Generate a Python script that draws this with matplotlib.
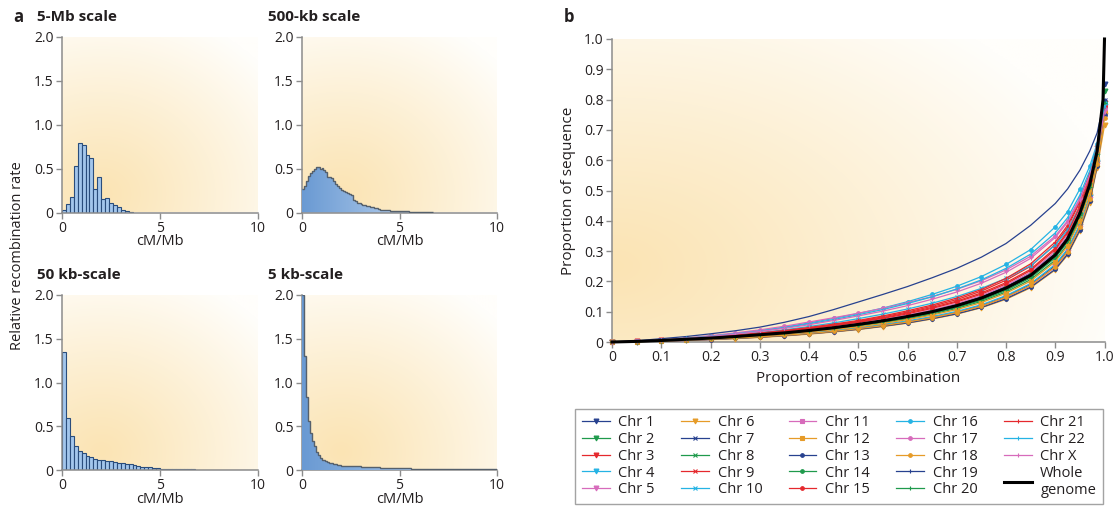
#!/usr/bin/env python3
"""
Recombination rate distributions (a) and cumulative recombination
vs sequence curves per chromosome (b).
"""

import numpy as np
import matplotlib
matplotlib.use("Agg")
import matplotlib.pyplot as plt
from matplotlib.colors import LinearSegmentedColormap

plt.rcParams['font.family'] = ['Open Sans', 'DejaVu Sans']

# ---------------------------------------------------------------------------
# Panel a data: relative recombination rate per cM/Mb bin
# ---------------------------------------------------------------------------
mb5_bin = 0.2
mb5_rate = [0.03, 0.10, 0.18, 0.53, 0.79, 0.77, 0.66, 0.62, 0.27, 0.40,
            0.15, 0.17, 0.11, 0.08, 0.06, 0.03, 0.02, 0.01]

kb500_edges = [0.0, 0.1, 0.2, 0.3, 0.4, 0.5, 0.6, 0.7, 0.8, 0.9,
               1.0, 1.1, 1.2, 1.3, 1.4, 1.5, 1.6, 1.7, 1.8, 1.9,
               2.0, 2.1, 2.2, 2.3, 2.4, 2.5, 2.6, 2.7, 2.8, 2.9,
               3.0, 3.1, 3.2, 3.3, 3.4, 3.5, 3.6, 3.7, 3.8, 3.9,
               4.0, 4.5, 5.0, 5.5, 6.7]
kb500_rate = [0.27, 0.30, 0.36, 0.42, 0.45, 0.47, 0.50, 0.52, 0.52, 0.50,
              0.51, 0.48, 0.46, 0.41, 0.40, 0.39, 0.36, 0.33, 0.30, 0.28,
              0.26, 0.25, 0.23, 0.22, 0.21, 0.20, 0.14, 0.13, 0.11, 0.11,
              0.10, 0.09, 0.085, 0.075, 0.07, 0.065, 0.06, 0.055, 0.05, 0.045,
              0.032, 0.020, 0.013, 0.008]

kb50_bin = 0.2
kb50_rate = [1.345, 0.59, 0.385, 0.27, 0.22, 0.19, 0.165, 0.145, 0.13, 0.118,
             0.11, 0.105, 0.10, 0.095, 0.084, 0.08, 0.072, 0.065, 0.053, 0.046,
             0.038, 0.034, 0.030, 0.027, 0.019, 0.011, 0.010, 0.009, 0.008, 0.008,
             0.007, 0.007, 0.006, 0.006, 0.005, 0.005, 0.005, 0.004, 0.004, 0.003,
             0.002, 0.002, 0.002, 0.002, 0.002, 0.002, 0.002, 0.002, 0.002, 0.002]

kb5_edges = [0.0, 0.1, 0.2, 0.3, 0.4, 0.5, 0.6, 0.7, 0.8, 0.9,
             1.0, 1.1, 1.2, 1.3, 1.4, 1.5, 1.6, 1.7, 1.8, 1.9,
             2.0, 2.5, 3.0, 4.0, 5.6, 10.0]
kb5_rate = [2.0, 1.30, 0.83, 0.56, 0.42, 0.33, 0.27, 0.21, 0.17, 0.14,
            0.12, 0.11, 0.10, 0.09, 0.08, 0.075, 0.07, 0.065, 0.06, 0.058,
            0.05, 0.042, 0.032, 0.02, 0.008]

# ---------------------------------------------------------------------------
# Panel b data: proportion of sequence vs proportion of recombination
# ---------------------------------------------------------------------------
prop_rec = [0, 0.05, 0.1, 0.15, 0.2, 0.25, 0.3, 0.35, 0.4, 0.45, 0.5, 0.55,
            0.6, 0.65, 0.7, 0.75, 0.8, 0.85, 0.9, 0.925, 0.95, 0.97, 0.985, 1.0]

chr1 = [0, 0.001, 0.003, 0.006, 0.009, 0.013, 0.017, 0.022, 0.028, 0.036, 0.045, 0.055,
        0.067, 0.081, 0.098, 0.120, 0.150, 0.190, 0.252, 0.302, 0.382, 0.478, 0.590, 0.853]
chr2 = [0, 0.001, 0.004, 0.008, 0.012, 0.017, 0.022, 0.028, 0.036, 0.044, 0.055, 0.066,
        0.080, 0.095, 0.114, 0.138, 0.170, 0.212, 0.278, 0.330, 0.412, 0.505, 0.615, 0.830]
chr3 = [0, 0.002, 0.005, 0.010, 0.015, 0.021, 0.028, 0.036, 0.045, 0.055, 0.067, 0.080,
        0.096, 0.114, 0.135, 0.162, 0.196, 0.240, 0.310, 0.365, 0.450, 0.540, 0.640, 0.790]
chr4 = [0, 0.001, 0.003, 0.006, 0.010, 0.014, 0.018, 0.024, 0.030, 0.038, 0.047, 0.058,
        0.070, 0.084, 0.101, 0.123, 0.153, 0.193, 0.256, 0.307, 0.388, 0.483, 0.595, 0.778]
chr5 = [0, 0.001, 0.003, 0.005, 0.008, 0.012, 0.016, 0.021, 0.027, 0.034, 0.043, 0.053,
        0.065, 0.079, 0.096, 0.118, 0.147, 0.186, 0.247, 0.297, 0.377, 0.472, 0.585, 0.748]
chr6 = [0, 0.001, 0.003, 0.005, 0.008, 0.011, 0.015, 0.020, 0.026, 0.033, 0.041, 0.051,
        0.062, 0.076, 0.092, 0.113, 0.141, 0.179, 0.238, 0.287, 0.366, 0.460, 0.575, 0.715]
chr7 = [0, 0.002, 0.005, 0.009, 0.013, 0.018, 0.024, 0.031, 0.039, 0.048, 0.059, 0.071,
        0.086, 0.103, 0.123, 0.149, 0.183, 0.226, 0.293, 0.346, 0.430, 0.525, 0.630, 0.800]
chr8 = [0, 0.001, 0.004, 0.008, 0.012, 0.016, 0.022, 0.028, 0.035, 0.043, 0.053, 0.064,
        0.077, 0.092, 0.111, 0.134, 0.165, 0.206, 0.270, 0.322, 0.405, 0.500, 0.610, 0.790]
chr9 = [0, 0.002, 0.006, 0.011, 0.016, 0.022, 0.029, 0.037, 0.046, 0.057, 0.069, 0.083,
        0.099, 0.118, 0.140, 0.168, 0.204, 0.250, 0.322, 0.378, 0.462, 0.550, 0.645, 0.780]
chr10 = [0, 0.002, 0.005, 0.010, 0.016, 0.023, 0.031, 0.040, 0.051, 0.063, 0.077, 0.092,
         0.109, 0.128, 0.150, 0.177, 0.210, 0.252, 0.320, 0.370, 0.445, 0.530, 0.620, 0.770]
chr11 = [0, 0.002, 0.005, 0.009, 0.014, 0.019, 0.025, 0.032, 0.040, 0.050, 0.061, 0.074,
         0.089, 0.106, 0.127, 0.153, 0.187, 0.230, 0.298, 0.352, 0.436, 0.530, 0.632, 0.780]
chr12 = [0, 0.001, 0.004, 0.007, 0.011, 0.015, 0.020, 0.026, 0.033, 0.041, 0.050, 0.061,
         0.074, 0.089, 0.107, 0.130, 0.161, 0.201, 0.265, 0.317, 0.400, 0.495, 0.605, 0.760]
chr13 = [0, 0.001, 0.003, 0.005, 0.008, 0.012, 0.016, 0.021, 0.027, 0.034, 0.042, 0.052,
         0.063, 0.077, 0.093, 0.114, 0.143, 0.181, 0.240, 0.290, 0.370, 0.465, 0.580, 0.750]
chr14 = [0, 0.002, 0.005, 0.009, 0.013, 0.018, 0.024, 0.031, 0.039, 0.048, 0.059, 0.071,
         0.085, 0.102, 0.122, 0.147, 0.180, 0.223, 0.290, 0.343, 0.427, 0.522, 0.628, 0.790]
chr15 = [0, 0.002, 0.005, 0.010, 0.015, 0.021, 0.027, 0.035, 0.044, 0.054, 0.065, 0.078,
         0.093, 0.111, 0.132, 0.158, 0.192, 0.236, 0.305, 0.360, 0.445, 0.535, 0.635, 0.780]
chr16 = [0, 0.002, 0.006, 0.011, 0.019, 0.027, 0.037, 0.049, 0.063, 0.078, 0.094, 0.112,
         0.133, 0.157, 0.184, 0.216, 0.256, 0.305, 0.380, 0.430, 0.505, 0.580, 0.655, 0.790]
chr17 = [0, 0.003, 0.007, 0.013, 0.021, 0.030, 0.040, 0.052, 0.066, 0.080, 0.095, 0.111,
         0.130, 0.150, 0.174, 0.202, 0.238, 0.283, 0.350, 0.400, 0.475, 0.555, 0.635, 0.770]
chr18 = [0, 0.001, 0.003, 0.006, 0.009, 0.013, 0.017, 0.022, 0.028, 0.035, 0.044, 0.054,
         0.066, 0.080, 0.097, 0.118, 0.148, 0.187, 0.248, 0.298, 0.378, 0.473, 0.587, 0.740]
chr19 = [0, 0.004, 0.011, 0.018, 0.027, 0.037, 0.049, 0.065, 0.084, 0.107, 0.132, 0.157,
         0.183, 0.212, 0.243, 0.280, 0.325, 0.385, 0.457, 0.505, 0.567, 0.630, 0.690, 0.800]
chr20 = [0, 0.001, 0.004, 0.008, 0.012, 0.017, 0.023, 0.029, 0.037, 0.046, 0.056, 0.068,
         0.082, 0.098, 0.117, 0.141, 0.174, 0.216, 0.283, 0.336, 0.418, 0.512, 0.620, 0.790]
chr21 = [0, 0.002, 0.006, 0.011, 0.017, 0.023, 0.030, 0.038, 0.048, 0.059, 0.071, 0.086,
         0.103, 0.122, 0.145, 0.173, 0.210, 0.258, 0.330, 0.385, 0.468, 0.555, 0.650, 0.780]
chr22 = [0, 0.002, 0.006, 0.012, 0.019, 0.027, 0.036, 0.047, 0.060, 0.074, 0.090, 0.107,
         0.127, 0.149, 0.175, 0.205, 0.243, 0.290, 0.360, 0.410, 0.485, 0.565, 0.645, 0.780]
chrX = [0, 0.002, 0.006, 0.011, 0.018, 0.026, 0.035, 0.045, 0.057, 0.071, 0.086, 0.102,
        0.120, 0.141, 0.165, 0.194, 0.230, 0.276, 0.345, 0.395, 0.470, 0.550, 0.630, 0.760]

wg_rec = [0, 0.05, 0.1, 0.15, 0.2, 0.25, 0.3, 0.35, 0.4, 0.45, 0.5, 0.55, 0.6, 0.65,
          0.7, 0.75, 0.8, 0.85, 0.9, 0.925, 0.95, 0.97, 0.985, 0.997, 1.0]
wg_seq = [0, 0.002, 0.005, 0.009, 0.013, 0.018, 0.024, 0.030, 0.038, 0.047, 0.058, 0.070,
          0.084, 0.100, 0.120, 0.145, 0.178, 0.220, 0.287, 0.340, 0.425, 0.520, 0.630,
          0.800, 1.0]

chr_labels = ['Chr 1', 'Chr 2', 'Chr 3', 'Chr 4', 'Chr 5', 'Chr 6', 'Chr 7', 'Chr 8',
              'Chr 9', 'Chr 10', 'Chr 11', 'Chr 12', 'Chr 13', 'Chr 14', 'Chr 15',
              'Chr 16', 'Chr 17', 'Chr 18', 'Chr 19', 'Chr 20', 'Chr 21', 'Chr 22',
              'Chr X']

# ---------------------------------------------------------------------------
# Styles
# ---------------------------------------------------------------------------
NAVY, GREEN, RED = '#27418f', '#1f9a4c', '#e5282d'
CYAN, PINK, ORANGE = '#25b3e4', '#d76bbb', '#e69b28'
chr_colors = [NAVY, GREEN, RED, CYAN, PINK,
              ORANGE, NAVY, GREEN, RED, CYAN,
              PINK, ORANGE, NAVY, GREEN, RED,
              CYAN, PINK, ORANGE, NAVY, GREEN,
              RED, CYAN, PINK]
chr_markers = ['v'] * 6 + ['x'] * 4 + ['s', 's'] + ['o'] * 6 + ['+', '+'] + ['|'] * 3
chr_msize = [3.5] * 6 + [2.5] * 4 + [2.2, 2.2] + [2.6] * 6 + [3, 3] + [2.5] * 3

SPINE = '#8c8c8c'
TEXT = '#231f20'


def bg_image(cx, cy, r):
    # soft cream radial gradient used behind every panel
    yy, xx = np.mgrid[0:1:200j, 0:1:200j]
    d = np.clip(np.hypot(xx - cx, yy - cy) / r, 0, 1)
    t = d ** 1.1
    c0 = np.array([251, 228, 180]) / 255
    c1 = np.array([255, 254, 251]) / 255
    return c0 + (c1 - c0) * t[..., None]


def add_bg(ax, cx, cy, r):
    ax.imshow(bg_image(cx, cy, r), origin='lower', extent=(0, 1, 0, 1),
              transform=ax.transAxes, aspect='auto', zorder=0,
              interpolation='bilinear')


def style_axes(ax):
    ax.set_facecolor('none')
    for s in ['top', 'right']:
        ax.spines[s].set_visible(False)
    for s in ['left', 'bottom']:
        ax.spines[s].set_color(SPINE)
        ax.spines[s].set_linewidth(1.1)
    ax.tick_params(colors=SPINE, labelcolor=TEXT, length=4, width=1.0,
                   labelsize=10, pad=2)


def style_hist(ax):
    style_axes(ax)
    ax.set_xlim(0, 10)
    ax.set_ylim(0, 2.0)
    ax.set_xticks([0, 5, 10])
    ax.set_yticks([0, 0.5, 1.0, 1.5, 2.0])
    ax.set_yticklabels(['0', '0.5', '1.0', '1.5', '2.0'])
    ax.set_xlabel('cM/Mb', fontsize=10.5, color=TEXT, labelpad=-1)


def gradient_stairs(ax, values, edges):
    patch = ax.stairs(values, edges, fill=True, facecolor='#9dbfe6',
                      edgecolor='none', zorder=2)
    cmap = LinearSegmentedColormap.from_list('blu', ['#6a9ad3', '#c3d8f1'])
    grad = np.linspace(0, 1, 256)[None, :]
    im = ax.imshow(grad, cmap=cmap, extent=(edges[0], edges[-1], 0, max(values)),
                   aspect='auto', zorder=3, interpolation='bilinear')
    im.set_clip_path(patch)
    ax.stairs(values, edges, color='#55606c', linewidth=1.0, baseline=None,
              zorder=4)


W, H = 1113, 507
fig = plt.figure(figsize=(W / 100, H / 100), dpi=100)


def frac_axes(x0, y_top, x1, y_bot):
    return fig.add_axes([x0 / W, 1 - y_bot / H, (x1 - x0) / W, (y_bot - y_top) / H])


ax_mb5 = frac_axes(62, 37, 258, 212.5)
ax_kb500 = frac_axes(302, 37, 497, 212.5)
ax_kb50 = frac_axes(62, 295, 258, 470)
ax_kb5 = frac_axes(302, 295, 497, 470)

for ax in [ax_mb5, ax_kb500, ax_kb50, ax_kb5]:
    add_bg(ax, 0.2, 0.1, 1.1)

# 5-Mb: bars
mb5_x = np.arange(len(mb5_rate)) * mb5_bin
ax_mb5.bar(mb5_x, mb5_rate, width=mb5_bin, align='edge', color='#a3c6ec',
           edgecolor='#2a4d7c', linewidth=0.8, zorder=2)
# 50-kb: bars
kb50_x = np.arange(len(kb50_rate)) * kb50_bin
ax_kb50.bar(kb50_x, kb50_rate, width=kb50_bin, align='edge', color='#a3c6ec',
            edgecolor='#2a4d7c', linewidth=0.8, zorder=2)
# 500-kb and 5-kb: filled steps
gradient_stairs(ax_kb500, kb500_rate, kb500_edges)
gradient_stairs(ax_kb5, kb5_rate, kb5_edges)

for ax in [ax_mb5, ax_kb500, ax_kb50, ax_kb5]:
    style_hist(ax)

fig.text(13 / W, 1 - 17 / H, 'a', fontsize=12, fontweight='bold', va='center', color=TEXT)
fig.text(564 / W, 1 - 17 / H, 'b', fontsize=12, fontweight='bold', va='center', color=TEXT)
fig.text(37 / W, 1 - 17 / H, '5-Mb scale', fontsize=11, fontweight='bold', va='center', color=TEXT)
fig.text(268 / W, 1 - 17 / H, '500-kb scale', fontsize=11, fontweight='bold', va='center', color=TEXT)
fig.text(37 / W, 1 - 275 / H, '50 kb-scale', fontsize=11, fontweight='bold', va='center', color=TEXT)
fig.text(268 / W, 1 - 275 / H, '5 kb-scale', fontsize=11, fontweight='bold', va='center', color=TEXT)
fig.text(18 / W, 1 - 256 / H, 'Relative recombination rate', fontsize=10.5,
         rotation=90, va='center', ha='center', color=TEXT)

# ---------------------------------------------------------------------------
# Panel b
# ---------------------------------------------------------------------------
ax_b = frac_axes(612, 39, 1104.5, 342)
add_bg(ax_b, 0.0, 0.25, 1.05)

chr_series = [chr1, chr2, chr3, chr4, chr5, chr6, chr7, chr8, chr9, chr10, chr11,
              chr12, chr13, chr14, chr15, chr16, chr17, chr18, chr19, chr20, chr21,
              chr22, chrX]

handles = []
for i, (lab, ys) in enumerate(zip(chr_labels, chr_series)):
    is19 = lab == 'Chr 19'
    ln, = ax_b.plot(prop_rec, ys, color=chr_colors[i], marker=chr_markers[i],
                    markersize=chr_msize[i], linewidth=0.9, markeredgewidth=0.8,
                    markevery=slice(0, None) if not is19 else [len(ys) - 1],
                    zorder=3, clip_on=False)
    handles.append(ln)

wg, = ax_b.plot(wg_rec, wg_seq, color='black', linewidth=2.2, zorder=5, clip_on=False)
handles.append(wg)

style_axes(ax_b)
ax_b.set_xlim(0, 1.0)
ax_b.set_ylim(0, 1.0)
ticks = [0, 0.1, 0.2, 0.3, 0.4, 0.5, 0.6, 0.7, 0.8, 0.9, 1.0]
tlabs = ['0', '0.1', '0.2', '0.3', '0.4', '0.5', '0.6', '0.7', '0.8', '0.9', '1.0']
ax_b.set_xticks(ticks)
ax_b.set_xticklabels(tlabs)
ax_b.set_yticks(ticks)
ax_b.set_yticklabels(tlabs)
ax_b.set_xlabel('Proportion of recombination', fontsize=11, color=TEXT, labelpad=4)
ax_b.set_ylabel('Proportion of sequence', fontsize=11, color=TEXT, labelpad=6)

labels = chr_labels + ['Whole\ngenome']
leg = fig.legend(handles, labels, loc='center', ncol=5, mode='expand',
                 bbox_to_anchor=(568 / W, 1 - 506 / H, 542 / W, 99 / H),
                 fontsize=10.5, frameon=True, fancybox=False, numpoints=1,
                 handlelength=1.9, handletextpad=0.6, labelspacing=0.12,
                 borderpad=0.45, columnspacing=1.0)
leg.get_frame().set_edgecolor('#8c8c8c')
leg.get_frame().set_linewidth(1.0)
for t in leg.get_texts():
    t.set_color(TEXT)

fig.savefig('out.png', dpi=100)
